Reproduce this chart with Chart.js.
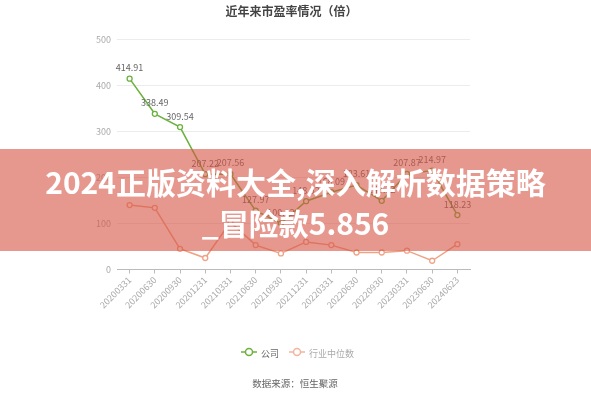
<!DOCTYPE html>
<html><head><meta charset="utf-8">
<script src="https://cdn.jsdelivr.net/npm/chart.js@4/dist/chart.umd.min.js"></script>
<style>
html,body{margin:0;padding:0;background:#fff;width:591px;height:400px;overflow:hidden;font-family:"Noto Sans CJK SC","Noto Sans",sans-serif;}
#wrap{position:relative;width:591px;height:400px;}
#c{position:absolute;left:0;top:0;}
.title{position:absolute;left:0;width:583px;top:2px;text-align:center;font-size:12px;font-weight:bold;color:#444;}
.legend{position:absolute;top:345px;left:241px;font-size:9px;line-height:16px;white-space:nowrap;}
.legend span{display:inline-block;vertical-align:middle;}
.src{position:absolute;left:0;width:590px;top:376px;text-align:center;font-size:9.5px;color:#666;}
.banner{position:absolute;left:0;top:149px;width:591px;height:102px;background:rgba(214,84,68,0.6);}
.banner div{position:absolute;left:0;width:591px;text-align:center;color:#fff;font-weight:bold;font-size:30px;line-height:30px;white-space:nowrap;}
</style></head>
<body><div id="wrap">
<canvas id="c" width="591" height="400"></canvas>
<div class="title">近年来市盈率情况（倍）</div>
<div class="legend">
<span><svg width="16" height="10"><line x1="0" y1="5" x2="16" y2="5" stroke="#6ab23c" stroke-width="1.5"/><circle cx="8" cy="5" r="3.5" fill="#fff" stroke="#6ab23c" stroke-width="1.5"/></svg></span>
<span style="color:#666;margin-left:2px;">公司</span>
<span style="margin-left:8px;"><svg width="16" height="10"><line x1="0" y1="5" x2="16" y2="5" stroke="#f2b59c" stroke-width="1.5"/><circle cx="8" cy="5" r="3.5" fill="#fff" stroke="#f2b59c" stroke-width="1.5"/></svg></span>
<span style="color:#aaa;margin-left:2px;">行业中位数</span>
</div>
<div class="src">数据来源：恒生聚源</div>
<div class="banner">
<div style="top:17px;">2024正版资料大全,深入解析数据策略</div>
<div style="top:58px;">_冒险款5.856</div>
</div>
</div>
<script>
const categories = ["20200331","20200630","20200930","20201231","20210331","20210630","20210930","20211231","20220331","20220630","20220930","20230331","20230630","20240623"];
const companyPE = [414.91,338.49,309.54,207.22,207.56,127.97,100.32,148.52,168.09,183.61,149.32,207.87,214.97,118.23];
const industryPE = [140,134,45,25,103,53,35,60,53,37,37,41,19,55];
const yTicks = [0,100,200,300,400,500];
const seriesNames = ["公司","行业中位数"];

const labelPlugin = {
  id:'vlabels',
  afterDatasetsDraw(chart){
    const ctx = chart.ctx;
    const meta = chart.getDatasetMeta(0);
    ctx.save();
    ctx.font = '9px "Noto Sans CJK SC", sans-serif';
    ctx.fillStyle = '#666';
    ctx.textAlign = 'center';
    ctx.textBaseline = 'middle';
    meta.data.forEach((p,i)=>{
      ctx.fillText(companyPE[i].toFixed(2), p.x, p.y - 11);
    });
    ctx.restore();
  }
};

new Chart(document.getElementById('c'), {
  type:'line',
  data:{
    labels:categories,
    datasets:[
      {label:seriesNames[0],data:companyPE,borderColor:'#6ab23c',backgroundColor:'#fff',borderWidth:1.5,pointRadius:2.5,pointBorderWidth:1.3,pointBackgroundColor:'#fff',pointBorderColor:'#6ab23c',tension:0},
      {label:seriesNames[1],data:industryPE,borderColor:'#eea386',backgroundColor:'#fff',borderWidth:1.5,pointRadius:2.5,pointBorderWidth:1.3,pointBackgroundColor:'#fff',pointBorderColor:'#eea386',tension:0}
    ]
  },
  options:{
    responsive:false,
    animation:false,
    devicePixelRatio:1,
    layout:{padding:{left:0,right:121,top:39.5,bottom:0}},
    plugins:{legend:{display:false},title:{display:false},tooltip:{enabled:false}},
    scales:{
      x:{
        offset:true,
        grid:{display:true,drawOnChartArea:false,drawTicks:true,tickLength:4,color:'#bbb',offset:false},
        border:{display:true,color:'#bbb'},
        ticks:{autoSkip:false,maxRotation:45,minRotation:45,color:'#aaa',font:{size:9,family:'"Noto Sans CJK SC", sans-serif'},padding:1},
        afterFit(s){ s.height = 130.5; }
      },
      y:{
        min:0,max:500,
        afterBuildTicks(s){ s.ticks = yTicks.map(v=>({value:v})); },
        grid:{color:'#ececec',drawTicks:false},
        border:{display:false},
        ticks:{color:'#aaa',font:{size:9,family:'"Noto Sans CJK SC", sans-serif'},padding:6},
        afterFit(s){ s.width = 117; }
      }
    }
  },
  plugins:[labelPlugin]
});
</script>
</body></html>
